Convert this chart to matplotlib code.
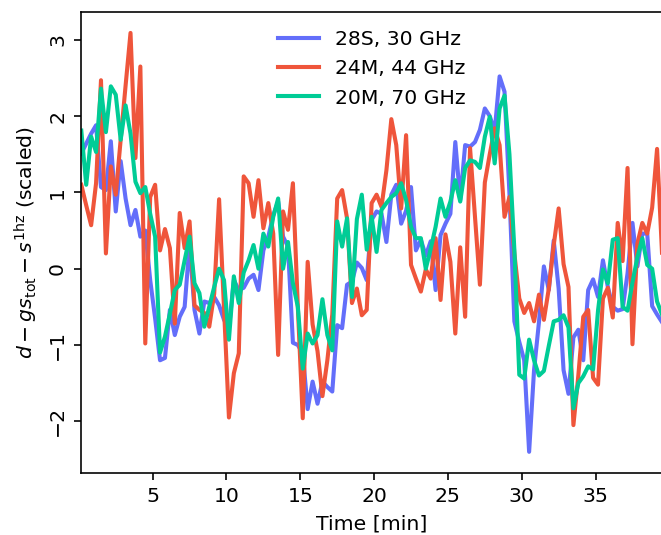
import matplotlib
matplotlib.use('Agg')
import matplotlib.pyplot as plt

# samples every 20 s, first one at 10 s
n_pts = 119
time_min = [1.0/6 + k/3.0 for k in range(n_pts)]

labels = ["28S, 30 GHz", "24M, 44 GHz", "20M, 70 GHz"]
colors = ["#636EFA", "#EF553B", "#00CC96"]

ch_28S = [1.51, 1.64, 1.77, 1.88, 1.07, 1.03, 1.67, 0.75, 1.41, 0.92,
          0.57, 0.77, 0.42, 0.50, -0.15, -0.65, -1.20, -1.17, -0.54, -0.87,
          -0.63, -0.50, 0.33, -0.54, -0.85, -0.43, -0.45, -0.37, -0.48, -0.67,
          -0.78, -0.15, -0.28, -0.25, -0.13, -0.08, -0.28, 0.24, 0.42, 0.70,
          0.88, 0.42, 0.29, -0.97, -1.00, -1.11, -1.84, -1.48, -1.77, -1.48,
          -1.55, -1.61, -0.74, -0.78, -0.21, -0.17, 0.08, 0.01, -0.15, 0.64,
          0.75, 0.72, 0.35, 0.97, 1.10, 0.59, 0.76, 1.07, 0.24, 0.38,
          0.17, 0.36, -0.28, 0.44, 0.59, 0.72, 1.66, 0.90, 1.62, 1.60,
          1.66, 1.82, 2.10, 2.00, 1.80, 2.52, 2.32, 0.99, -0.69, -0.96,
          -1.20, -2.40, -1.33, -0.70, 0.03, -0.28, 0.37, -0.26, -1.33, -1.64,
          -0.90, -0.80, -1.20, -0.28, -0.14, -0.37, 0.11, -0.24, -0.50, -0.55,
          -0.53, -0.06, 0.60, 0.03, 0.46, 0.46, -0.49, -0.60, -0.70]

ch_24M = [1.10, 0.83, 0.57, 1.12, 2.47, 0.20, 1.34, 0.97, 1.69, 2.40,
          3.09, 1.45, 2.65, -0.98, 0.94, 1.10, 0.24, 0.52, 0.27, -0.72,
          0.73, 0.27, 0.62, -0.48, -0.54, -0.58, -0.76, -0.33, 0.91, -0.52,
          -1.95, -1.37, -1.11, 1.21, 1.12, 0.68, 1.16, 0.53, 0.86, 0.46,
          -1.13, 0.75, 0.51, 1.12, -0.50, -1.96, 0.09, -0.73, -1.08, -1.67,
          -1.20, -0.60, 0.92, 1.03, 0.66, -0.45, -0.26, -0.61, -0.54, 0.86,
          0.97, 0.81, 1.29, 1.96, 1.62, 0.79, 1.75, 0.05, -0.13, -0.30,
          -0.01, -0.13, 0.40, -0.41, 0.45, 0.09, -0.85, 0.28, -0.63, 1.58,
          0.68, -0.21, 1.13, 1.50, 1.84, 1.62, 0.68, 0.94, 0.20, -0.39,
          -0.58, -0.45, -0.69, -0.34, -0.67, -0.26, 0.31, 0.79, 0.06, -0.24,
          -2.05, -1.40, -0.63, -0.54, -1.43, -1.52, -0.39, -0.25, -0.64, 0.60,
          0.10, 1.32, -0.99, 0.33, 0.60, 0.46, 0.80, 1.57, 0.21]

ch_20M = [1.81, 1.10, 1.73, 1.53, 2.36, 1.79, 2.39, 2.28, 1.69, 2.14,
          1.77, 1.14, 0.99, 1.07, 0.72, 0.42, -1.10, -0.89, -0.59, -0.28,
          -0.21, 0.11, 0.42, -0.19, -0.32, -0.76, -0.50, -0.24, 0.00, -0.15,
          -0.93, -0.10, -0.45, -0.05, 0.11, 0.31, 0.00, 0.46, 0.29, 0.68,
          0.92, 0.00, 0.35, -0.19, -0.50, -1.31, -0.85, -0.98, -0.87, -0.40,
          -0.87, -1.07, 0.62, 0.29, 0.66, -0.37, 0.65, 0.97, 0.25, 0.68,
          0.22, 0.77, 0.86, 0.94, 0.99, 1.12, 0.90, 0.55, 0.40, 0.40,
          0.00, 0.26, 0.55, 0.92, 0.68, 0.88, 1.16, 0.88, 1.32, 1.42,
          1.40, 1.32, 1.73, 1.99, 1.38, 2.10, 2.27, 1.50, 0.25, -1.39,
          -1.44, -0.93, -1.20, -1.40, -1.34, -1.01, -0.69, -0.67, -0.61, -0.77,
          -1.83, -1.50, -1.41, -1.28, -1.32, -0.55, -0.01, -0.19, 0.38, 0.40,
          -0.50, -0.55, -0.18, 0.15, 0.40, 0.05, 0.00, -0.43, -0.60]

all_series = [ch_28S, ch_24M, ch_20M]

fig = plt.figure(figsize=(661/147.0, 535/147.0), dpi=147)
ax = fig.add_axes([0.123, 0.1164, 0.8785, 0.8617])

for series, lab, col in zip(all_series, labels, colors):
    ax.plot(time_min, series, color=col, lw=2.0, label=lab)

ax.set_xlim(time_min[0], time_min[-1])
ax.set_ylim(-2.674, 3.368)
ax.set_xticks([5, 10, 15, 20, 25, 30, 35])
ax.set_yticks([-2, -1, 0, 1, 2, 3])
ax.tick_params(axis='y', labelrotation=90)
for lbl in ax.get_yticklabels():
    lbl.set_va('center')

ax.set_xlabel("Time [min]")
ax.set_ylabel(r"$d - g s_{\rm tot} - s^{\rm 1hz}$ (scaled)")
ax.legend(loc='upper center', frameon=False)

plt.savefig("out.png", dpi=147)
